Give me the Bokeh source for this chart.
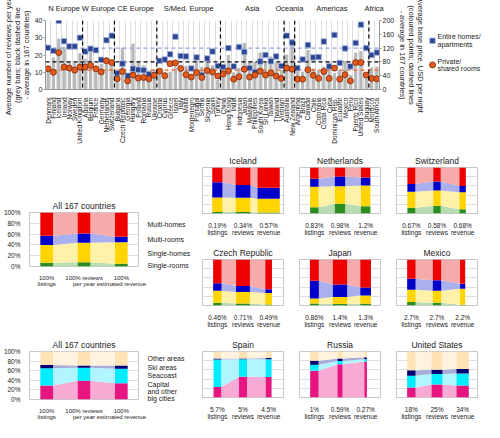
import math
from bokeh.plotting import figure
from bokeh.models import Range1d, LinearAxis, FixedTicker, Span, NumeralTickFormatter
from bokeh.core.properties import value
from bokeh.layouts import column, row
from bokeh.embed import file_html
from bokeh.resources import INLINE

FONT = "Liberation Sans"

# ---------------- data: top chart ----------------
regions = ["N Europe", "W Europe", "CE Europe", "S/Med. Europe", "Asia", "Oceania", "Americas", "Africa"]
region_sizes = [7, 6, 8, 12, 12, 2, 14, 2]
countries = ["Denmark", "Finland", "Iceland", "Ireland", "Norway", "Sweden", "United Kingdom",
             "Austria", "Belgium", "France", "Germany", "Netherlands", "Switzerland",
             "Bulgaria", "Czech Republic", "Georgia", "Hungary", "Poland", "Romania", "Russia", "Ukraine",
             "Croatia", "Cyprus", "Greece", "Israel", "Italy", "Malta", "Montenegro", "Portugal", "Serbia",
             "Slovenia", "Spain", "Turkey",
             "China", "Hong Kong", "India", "Indonesia", "Japan", "Malaysia", "Philippines", "South Korea",
             "Sri Lanka", "Taiwan", "Thailand", "Vietnam",
             "Australia", "New Zealand",
             "Argentina", "Brazil", "Canada", "Chile", "Colombia", "Costa Rica", "Cuba", "Dominican Rep.",
             "Ecuador", "Mexico", "Peru", "Puerto Rico", "United States", "Uruguay",
             "Morocco", "South Africa"]
reviews = [12, 18.3, 29.3, 24.5, 15.9, 15.3, 20.8,
           17.5, 22.3, 12.3, 14.6, 18.6, 13.7,
           5.5, 24, 6, 26.3, 15.6, 13.8, 8.9, 11.4,
           8.6, 9.7, 10.1, 12.9, 11.4, 13.4, 5.2, 16.2, 12.9, 15.6, 13.8, 5.2,
           10, 19.8, 9.7, 12.3, 26.7, 16.3, 15.6, 21.2, 15.6, 18.9, 15.6, 11,
           20, 29,
           10.4, 10.1, 22.6, 12, 11, 13, 15.6, 9.2, 11, 16.2, 8.2, 21.1, 21.9, 6.7,
           12.6, 13]
price_homes = [121, 112, 199, 140, 125, 125, 150,
               110, 118, 114, 86, 143, 156,
               47, 75, 40, 60, 57, 56, 45, 42,
               83, 87, 102, 153, 97, 96, 61, 93, 42, 90, 110, 68,
               65, 120, 67, 123, 109, 62, 51, 81, 100, 82, 96, 68,
               156, 136,
               62, 87, 129, 93, 94, 139, 67, 158, 77, 119, 67, 135, 188, 120,
               100, 107]
price_rooms = [60, 50, 107, 65, 62, 56, 65,
               65, 70, 60, 51, 83, 78,
               31, 52, 25, 42, 33, 35, 31, 41,
               53, 40, 75, 77, 61, 43, 36, 49, 35, 55, 51, 39,
               45, 54, 30, 37, 59, 36, 42, 53, 42, 48, 39, 32,
               62, 59,
               30, 30, 57, 41, 32, 52, 32, 62, 30, 43, 25, 78, 78, 42,
               32, 31]
avg_reviews = 16
avg_price_homes = 120
avg_price_rooms = 56
left_ticks = [0, 10, 20, 30, 40]
right_ticks = [0, 40, 80, 120, 160, 200]
left_title = ["Average number of reviews per year", "(grey bars; black dashed line",
              "- average in 167 countries)"]
right_title = ["Average base price, USD per night", "(coloured points; dashed lines",
               "- average in 167 countries)"]
legend_homes = ["Entire homes/", "apartments"]
legend_rooms = ["Private/", "shared rooms"]

# ---------------- data: stacked panels ----------------
type_names = ["Single-rooms", "Single-homes", "Multi-rooms", "Multi-homes"]
area_names = ["Capital\nand other\nbig cities", "Seacoast", "Ski areas", "Other areas"]
measures = ["listings", "reviews", "revenue"]
all_measure_labels = ["100%\nlistings", "100% reviews\nper year", "100%\nestimated revenue"]

all_type_shares = [[7, 8, 5], [33, 36, 40], [17, 17, 10], [43, 39, 45]]
all_area_shares = [[29, 39, 34], [36, 27, 30], [7, 5, 7], [28, 29, 29]]
all_bar_widths = [0.34, 0.34, 0.34]

panel_countries = ["Iceland", "Netherlands", "Switzerland",
                   "Czech Republic", "Japan", "Mexico",
                   "Spain", "Russia", "United States"]
panel_kind = ["type", "type", "type", "type", "type", "type", "area", "area", "area"]
panel_pct = [["0.19%", "0.34%", "0.57%"], ["0.83%", "0.98%", "1.2%"], ["0.67%", "0.58%", "0.68%"],
             ["0.46%", "0.71%", "0.49%"], ["0.86%", "1.4%", "1.3%"], ["2.7%", "2.7%", "2.2%"],
             ["5.7%", "5%", "4.5%"], ["1%", "0.59%", "0.27%"], ["18%", "25%", "34%"]]
panel_shares = [
    [[3, 3, 2], [32, 31, 30], [33, 28, 24], [32, 38, 44]],
    [[13.5, 21, 16], [44.5, 38.5, 45], [17.5, 21, 17], [24.5, 19.5, 22]],
    [[12.5, 17, 9.5], [35, 33, 36.5], [16.5, 19.5, 14], [36, 30.5, 40]],
    [[6, 4.5, 2], [26, 25, 25], [16.5, 13, 8.5], [51.5, 57.5, 64.5]],
    [[4.5, 3.5, 4], [10.5, 15, 18], [39, 27, 17], [46, 54.5, 61]],
    [[7.5, 6, 1.5], [26.5, 26, 35], [24, 23, 11], [42, 45, 52.5]],
    [[23, 45, 44.5], [59.5, 38, 38.5], [2.5, 2, 3], [15, 15, 14]],
    [[58, 72.5, 78.5], [13, 7, 4.5], [9, 5.5, 4.5], [20, 15, 12.5]],
    [[21.5, 28.5, 26], [26, 22.5, 26], [12, 9.5, 10], [40.5, 39.5, 38]],
]
panel_bar_widths = [[0.4, 0.58, 0.87], [0.33, 0.40, 0.37], [0.31, 0.29, 0.25],
                    [0.33, 0.54, 0.26], [0.35, 0.56, 0.42], [0.33, 0.33, 0.2],
                    [0.30, 0.31, 0.23], [0.33, 0.2, 0.1], [0.33, 0.43, 0.48]]

type_dark = ["#2b8c1f", "#ffd400", "#0000c8", "#ee0000"]
type_light = ["#b7dcb1", "#fff2a8", "#aab0ee", "#f6aaaa"]
area_dark = ["#e6157f", "#00ecff", "#000072", "#ffe3b5"]
area_light = ["#f7abd4", "#b0f5ff", "#a9acd6", "#fff3df"]

TXT = "#222222"
HOME_STYLE = dict(marker="square", size=5.5, fill_color="#2b4590", line_color="#a8b8e4", line_width=0.8)
ROOM_STYLE = dict(marker="circle", size=6, fill_color="#e35a1c", line_color="#7a2a0a", line_width=0.8)


def plain_axis(ax, size="7px", standoff=2):
    ax.major_label_text_font = FONT
    ax.major_label_text_font_size = size
    ax.major_label_text_color = TXT
    ax.major_label_standoff = standoff
    ax.minor_tick_line_color = None


# ---------------- top chart ----------------
n = len(countries)
xc = [i + 0.5 for i in range(n)]
top = figure(width=428, height=146, x_range=Range1d(0, n), y_range=Range1d(0, 40),
             output_backend="svg", toolbar_location=None,
             min_border_left=34, min_border_right=36, min_border_top=12, min_border_bottom=0)
top.extra_y_ranges = {"price": Range1d(0, 200)}
top.outline_line_color = None
top.ygrid.visible = False
top.xgrid.ticker = FixedTicker(ticks=list(range(n + 1)))
top.xgrid.grid_line_color = "#dedede"

top.xaxis.ticker = FixedTicker(ticks=xc)
top.xaxis.major_label_overrides = {x: c for x, c in zip(xc, countries)}
top.xaxis.major_label_orientation = math.pi / 2
top.xaxis.major_tick_line_color = None
top.xaxis.axis_line_color = "#999999"
plain_axis(top.xaxis[0], "6.5px", 2)

la = top.yaxis[0]
la.ticker = FixedTicker(ticks=left_ticks)
la.axis_label = "\n".join(left_title)
ra = LinearAxis(y_range_name="price", ticker=FixedTicker(ticks=right_ticks),
                axis_label="\n".join(right_title))
top.add_layout(ra, "right")
for ax in (la, ra):
    plain_axis(ax, "7px", 1)
    ax.axis_line_color = "#999999"
    ax.major_tick_line_color = "#999999"
    ax.major_tick_out = 2
    ax.major_tick_in = 0
    ax.axis_label_text_font = FONT
    ax.axis_label_text_font_size = "7.5px"
    ax.axis_label_text_font_style = "normal"
    ax.axis_label_text_color = TXT
    ax.axis_label_text_line_height = 1.0
    ax.axis_label_standoff = 1

centers = []
acc = 0
for s in region_sizes:
    centers.append(acc + s / 2)
    acc += s
ga = LinearAxis(ticker=FixedTicker(ticks=centers),
                major_label_overrides={c: r for c, r in zip(centers, regions)})
plain_axis(ga, "7.5px", 2)
ga.axis_line_color = None
ga.major_tick_line_color = None
top.add_layout(ga, "above")

top.vbar(x=xc, top=reviews, width=0.42, color="#b8b8b8")
top.line(x=[0, n], y=[avg_reviews] * 2, line_color="black", line_dash="4 3", line_width=1.2)
top.line(x=[0, n], y=[avg_price_homes] * 2, y_range_name="price", line_color="#8fa6db",
         line_dash="4 3", line_width=1.2)
top.line(x=[0, n], y=[avg_price_rooms] * 2, y_range_name="price", line_color="#f0652a",
         line_dash="4 3", line_width=1.2)
acc = 0
for s in region_sizes[:-1]:
    acc += s
    top.add_layout(Span(location=acc, dimension="height", line_color="black",
                        line_dash="4 3", line_width=1.2))
top.scatter(x=xc, y=price_homes, y_range_name="price", **HOME_STYLE)
top.scatter(x=xc, y=price_rooms, y_range_name="price", **ROOM_STYLE)

# key: its own small figure, one entry per row index
legend_labels = ["\n".join(legend_homes), "\n".join(legend_rooms)]
key_rows = [-i for i in range(len(legend_labels))]
leg = figure(width=56, height=146, x_range=Range1d(-4, 52), y_range=Range1d(-2.02, 0.843),
             output_backend="svg", toolbar_location=None, min_border=0)
leg.axis.visible = False
leg.grid.visible = False
leg.outline_line_color = None
leg.scatter(x=[0], y=key_rows[:1], **HOME_STYLE)
leg.scatter(x=[0], y=key_rows[1:], **ROOM_STYLE)
leg.text(x=[0] * len(key_rows), y=key_rows, text=legend_labels, x_offset=5,
         text_align="left", text_baseline="middle", text_font=value(FONT),
         text_font_size=value("7px"), text_color=TXT, text_line_height=1.1)


# ---------------- stacked panels ----------------
def stacked_panel(title, tick_labels, shares, widths, dark, light, w, h, bl, br, bt, bb,
                  xr, show_y=False, side_labels=None, tick_font="6.5px"):
    p = figure(width=w, height=h, x_range=Range1d(*xr), y_range=Range1d(0, 1),
               output_backend="svg", toolbar_location=None,
               min_border_left=bl, min_border_right=br, min_border_top=bt, min_border_bottom=bb)
    p.title.text = title
    p.title.align = "center"
    p.title.text_font = FONT
    p.title.text_font_size = "8.5px"
    p.title.text_font_style = "normal"
    p.title.text_color = TXT
    p.title.standoff = 3
    p.outline_line_color = "#c8c8c8"
    p.xgrid.visible = False
    p.ygrid.ticker = FixedTicker(ticks=[0, 0.2, 0.4, 0.6, 0.8, 1])
    p.ygrid.grid_line_color = "#dedede"
    cx = [i + 0.5 for i in range(len(tick_labels))]
    p.xaxis.ticker = FixedTicker(ticks=cx)
    p.xaxis.major_label_overrides = {x: t for x, t in zip(cx, tick_labels)}
    p.xaxis.axis_line_color = None
    p.xaxis.major_tick_line_color = None
    plain_axis(p.xaxis[0], tick_font, 2)
    p.xaxis.major_label_text_line_height = 1.05
    if show_y:
        p.yaxis.ticker = FixedTicker(ticks=[0, 0.2, 0.4, 0.6, 0.8, 1])
        p.yaxis.formatter = NumeralTickFormatter(format="0%")
        p.yaxis.axis_line_color = None
        p.yaxis.major_tick_line_color = None
        plain_axis(p.yaxis[0], "6.5px", 3)
    else:
        p.yaxis.visible = False
    lo = [0.0] * len(cx)
    mids = []
    for k, layer in enumerate(shares):
        hi = [a + v / 100 for a, v in zip(lo, layer)]
        xs, ys = [], []
        for j in range(len(cx) - 1):
            xl = cx[j] + widths[j] / 2
            xr2 = cx[j + 1] - widths[j + 1] / 2
            xs.append([xl, xr2, xr2, xl])
            ys.append([lo[j], lo[j + 1], hi[j + 1], hi[j]])
        p.patches(xs, ys, fill_color=light[k], line_color=None)
        p.vbar(x=cx, bottom=lo, top=hi, width=widths, fill_color=dark[k], line_color=None)
        mids.append((lo[-1] + hi[-1]) / 2)
        lo = hi
    if side_labels is not None:
        sa = LinearAxis(ticker=FixedTicker(ticks=mids),
                        major_label_overrides={m: t for m, t in zip(mids, side_labels)})
        plain_axis(sa, "7px", 3)
        sa.axis_line_color = None
        sa.major_tick_line_color = None
        sa.major_label_text_line_height = 1.0
        p.add_layout(sa, "right")
    return p


f_all_type = stacked_panel("All 167 countries", all_measure_labels, all_type_shares, all_bar_widths,
                           type_dark, type_light, 193, 184, 24, 51, 66, 64, (0.04, 2.96),
                           show_y=True, side_labels=type_names, tick_font="6px")
f_all_area = stacked_panel("All 167 countries", all_measure_labels, all_area_shares, all_bar_widths,
                           area_dark, area_light, 193, 92, 24, 51, 21, 17, (0.04, 2.96),
                           show_y=True, side_labels=area_names, tick_font="6px")

small = []
for name, kind, pct, sh, bw in zip(panel_countries, panel_kind, panel_pct, panel_shares, panel_bar_widths):
    labels = [f"{a}\n{m}" for a, m in zip(pct, measures)]
    dk, lt = (type_dark, type_light) if kind == "type" else (area_dark, area_light)
    small.append(stacked_panel(name, labels, sh, bw, dk, lt, 97, 92, 9, 7, 21, 17, (-0.08, 3.08)))

grid = column(row(*small[0:3]), row(*small[3:6]), row(*small[6:9]))
left = column(f_all_type, f_all_area)
layout = column(row(top, leg), row(left, grid))

open("out.html", "w").write(file_html(layout, INLINE))
